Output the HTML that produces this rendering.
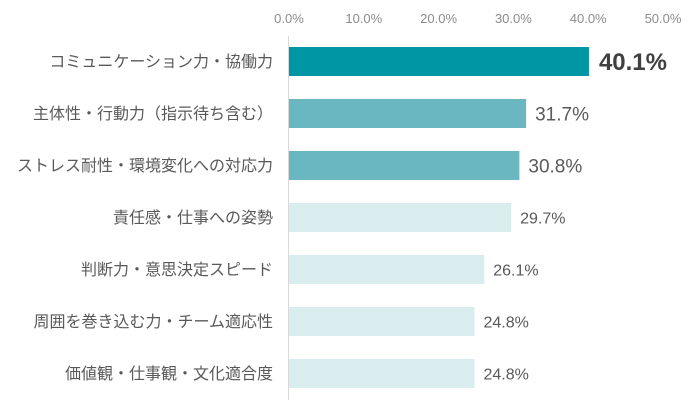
<!DOCTYPE html>
<html><head><meta charset="utf-8"><style>
html,body{margin:0;padding:0;background:#fff;}
svg{display:block;font-family:"Liberation Sans","Noto Sans CJK JP",sans-serif;}
</style></head><body>
<svg id="chart" width="700" height="420"></svg>
<script>
const categories=["コミュニケーション力・協働力","主体性・行動力（指示待ち含む）","ストレス耐性・環境変化への対応力","責任感・仕事への姿勢","判断力・意思決定スピード","周囲を巻き込む力・チーム適応性","価値観・仕事観・文化適合度"];
const values=[40.1,31.7,30.8,29.7,26.1,24.8,24.8];
const ticks=[0,10,20,30,40,50];
const NS="http://www.w3.org/2000/svg";
const svg=document.getElementById('chart');
const x0=289,x1=663,maxV=50;
function xs(v){return x0+(v/maxV)*(x1-x0);}
function ys(i){return 47+i*52;}
function mk(t,a){const e=document.createElementNS(NS,t);for(const k in a)e.setAttribute(k,a[k]);svg.appendChild(e);return e;}
ticks.forEach(t=>{
 const e=mk('text',{x:xs(t),y:23,'text-anchor':'middle','font-size':13,fill:'#8c8c8c'});
 e.textContent=t.toFixed(1)+'%';
 
 
});
const ax=mk('line',{x1:288.5,x2:288.5,y1:36,y2:400,stroke:'#d9d9d9','stroke-width':1});


const colors=['#0096a3','#6ab7c1','#6ab7c1','#d9ecee','#d9ecee','#d9ecee','#d9ecee'];
const fsz=[24,19,19,16,16,16,16];
values.forEach((v,i)=>{
 const y=ys(i);
 const r=mk('rect',{x:x0,y:y,width:xs(v)-x0,height:29,fill:colors[i]});
 
 
 const l=mk('text',{x:xs(v)+(i==0?10:9),y:y+14.5+fsz[i]*0.36,'font-size':fsz[i],fill:i==0?'#404040':'#595959','font-weight':i==0?'bold':'normal'});
 l.textContent=v.toFixed(1)+'%';
 
 
 const c=mk('text',{x:273,y:y+20,'text-anchor':'end','font-size':16,fill:'#595959'});
 c.textContent=categories[i];
 
 
});
</script>
</body></html>
